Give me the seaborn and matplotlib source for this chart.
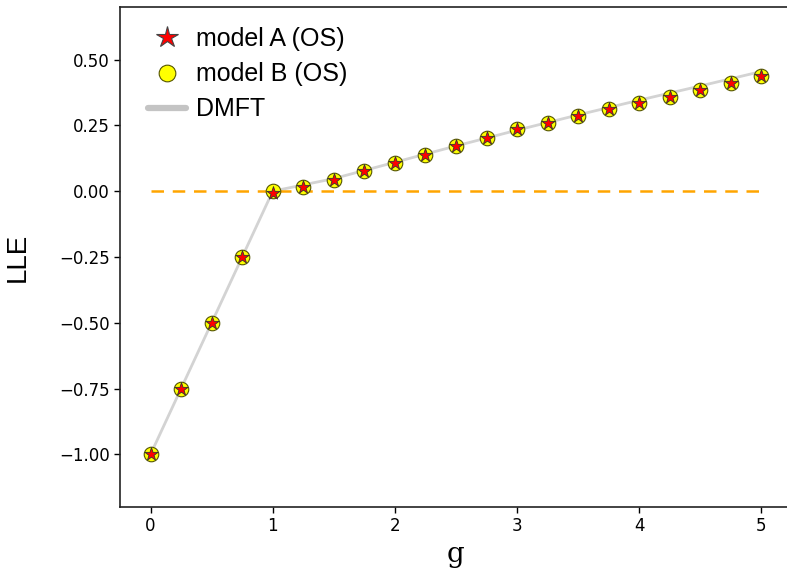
import matplotlib
matplotlib.use("Agg")
import matplotlib.pyplot as plt
import seaborn as sns
import pandas as pd
from matplotlib.lines import Line2D

g_points = [0.0, 0.25, 0.5, 0.75, 1.0, 1.25, 1.5, 1.75, 2.0, 2.25, 2.5, 2.75, 3.0,
            3.25, 3.5, 3.75, 4.0, 4.25, 4.5, 4.75, 5.0]
lle_model_a = [-1.0, -0.75, -0.5, -0.25, -0.005, 0.015, 0.043, 0.076, 0.107, 0.138,
               0.171, 0.201, 0.235, 0.259, 0.284, 0.311, 0.336, 0.358, 0.384, 0.41, 0.437]
lle_model_b = [-1.0, -0.75, -0.5, -0.25, 0.0, 0.015, 0.043, 0.076, 0.107, 0.138,
               0.171, 0.201, 0.235, 0.259, 0.284, 0.311, 0.336, 0.358, 0.384, 0.41, 0.437]
g_dmft = [0.0, 1.0, 1.5, 2.0, 2.5, 3.0, 3.5, 4.0, 4.5, 5.0]
lle_dmft = [-1.0, 0.0, 0.048, 0.11, 0.172, 0.232, 0.29, 0.346, 0.40, 0.455]
g_zero = [0.0, 5.0]
lle_zero = [0.0, 0.0]

sns.set_style("ticks")
plt.rcParams["font.family"] = ["DejaVu Sans"]
plt.rcParams["text.color"] = "black"
plt.rcParams["axes.labelcolor"] = "black"
plt.rcParams["xtick.color"] = "black"
plt.rcParams["ytick.color"] = "black"

fig = plt.figure(figsize=(7.87, 5.78), dpi=100)
ax = fig.add_axes([120 / 787, 1 - 507 / 578, 672 / 787, 500 / 578])

df_a = pd.DataFrame({"g": g_points, "LLE": lle_model_a})
df_b = pd.DataFrame({"g": g_points, "LLE": lle_model_b})
df_d = pd.DataFrame({"g": g_dmft, "LLE": lle_dmft})
df_z = pd.DataFrame({"g": g_zero, "LLE": lle_zero})

sns.lineplot(data=df_d, x="g", y="LLE", ax=ax, color="#d3d3d3", linewidth=2, zorder=1)
sns.lineplot(data=df_z, x="g", y="LLE", ax=ax, color="orange", linewidth=1.8,
             linestyle=(0, (5, 3.5)), zorder=2)
sns.scatterplot(data=df_b, x="g", y="LLE", ax=ax, marker="o", s=110, color="yellow",
                edgecolor="#555500", linewidth=0.8, zorder=3)
sns.scatterplot(data=df_a, x="g", y="LLE", ax=ax, marker="*", s=100, color="red",
                edgecolor="#333333", linewidth=0.6, zorder=4)

ax.set_xlim(-0.25, 5.25)
ax.set_ylim(-1.2, 0.7)
ax.set_xticks([0, 1, 2, 3, 4, 5])
ax.set_yticks([-1.0, -0.75, -0.5, -0.25, 0.0, 0.25, 0.5])
ax.set_yticklabels(["\u22121.00", "\u22120.75", "\u22120.50", "\u22120.25", "0.00", "0.25", "0.50"])
ax.tick_params(labelsize=12, length=4, width=1, colors="black")
for sp in ax.spines.values():
    sp.set_linewidth(1.2)
    sp.set_color("#222222")

ax.set_xlabel("g", fontsize=20, family="DejaVu Serif", labelpad=4)
ax.set_ylabel("LLE", fontsize=20, family="Liberation Sans", labelpad=20)

handles = [
    Line2D([], [], marker="*", linestyle="none", markersize=16, markerfacecolor="red",
           markeredgecolor="#444444", markeredgewidth=0.8),
    Line2D([], [], marker="o", linestyle="none", markersize=12, markerfacecolor="yellow",
           markeredgecolor="#555500", markeredgewidth=0.8),
    Line2D([], [], color="#c4c4c4", linewidth=4.5),
]
ax.legend(handles, ["model A (OS)", "model B (OS)", "DMFT"], loc="upper left",
          bbox_to_anchor=(8 / 672, 1.0),
          frameon=False, prop={"family": "Liberation Sans", "size": 18},
          borderaxespad=0.5, borderpad=0.3, handlelength=1.5, handletextpad=0.4,
          labelspacing=0.45)

fig.savefig("out.png", dpi=100)
